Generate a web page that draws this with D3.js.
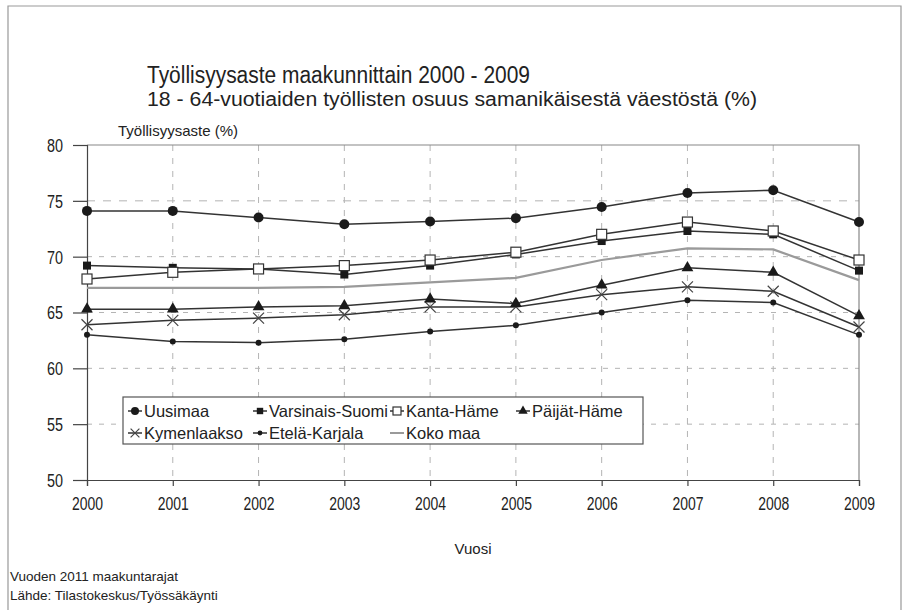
<!DOCTYPE html>
<html>
<head>
<meta charset="utf-8">
<script src="https://cdn.jsdelivr.net/npm/d3@7"></script>
<style>
  body { margin: 0; background: #fff; }
  svg { display: block; font-family: "Liberation Sans", Arial, sans-serif; }
  .narrow { font-family: "Liberation Sans Narrow", "Arial Narrow", "Liberation Sans", sans-serif; }
</style>
</head>
<body>
<div id="chart"></div>
<script>
const years = [2000, 2001, 2002, 2003, 2004, 2005, 2006, 2007, 2008, 2009];
const y_ticks = [50, 55, 60, 65, 70, 75, 80];

const uusimaa = [74.1, 74.1, 73.5, 72.9, 73.15, 73.45, 74.45, 75.7, 75.95, 73.1];
const varsinais_suomi = [69.2, 69.0, 68.9, 68.4, 69.2, 70.2, 71.4, 72.3, 72.0, 68.75];
const kanta_hame = [68.0, 68.6, 68.9, 69.2, 69.7, 70.4, 72.0, 73.1, 72.3, 69.7];
const paijat_hame = [65.3, 65.3, 65.5, 65.6, 66.2, 65.8, 67.45, 69.0, 68.6, 64.7];
const kymenlaakso = [63.9, 64.3, 64.5, 64.8, 65.5, 65.5, 66.6, 67.3, 66.9, 63.7];
const etela_karjala = [63.0, 62.4, 62.3, 62.6, 63.3, 63.85, 65.0, 66.1, 65.9, 63.0];
const koko_maa = [67.2, 67.2, 67.2, 67.3, 67.7, 68.1, 69.7, 70.75, 70.65, 67.9];

const series = [
  { name: "Koko maa", values: koko_maa, marker: "none" },
  { name: "Etelä-Karjala", values: etela_karjala, marker: "smallcircle" },
  { name: "Kymenlaakso", values: kymenlaakso, marker: "cross" },
  { name: "Päijät-Häme", values: paijat_hame, marker: "triangle" },
  { name: "Varsinais-Suomi", values: varsinais_suomi, marker: "square" },
  { name: "Kanta-Häme", values: kanta_hame, marker: "opensquare" },
  { name: "Uusimaa", values: uusimaa, marker: "circle" },
];

// legend order: row by row
const legend_items = [
  ["Uusimaa", 0, 0], ["Varsinais-Suomi", 1, 0], ["Kanta-Häme", 2, 0], ["Päijät-Häme", 3, 0],
  ["Kymenlaakso", 0, 1], ["Etelä-Karjala", 1, 1], ["Koko maa", 2, 1],
];

const width = 908, height = 610;
const plot = { left: 87, right: 859, top: 145, bottom: 480 };
const ink = "#222";
const line_col = "#333";

const svg = d3.select("#chart").append("svg")
  .attr("width", width).attr("height", height);

svg.append("rect").attr("width", width).attr("height", height).attr("fill", "#fff");

// outer frame
svg.append("path")
  .attr("d", `M8,${height} L8,6 L901,6 L901,${height}`)
  .attr("fill", "none").attr("stroke", "#999").attr("stroke-width", 1.2);

const x = d3.scaleLinear().domain([2000, 2009]).range([plot.left, plot.right]);
const y = d3.scaleLinear().domain([50, 80]).range([plot.bottom, plot.top]);

// titles (narrow font in the original, fit to measured widths)
svg.append("text").attr("class", "narrow").attr("x", 147).attr("y", 83)
  .attr("font-size", 23).attr("fill", ink)
  .attr("textLength", 383).attr("lengthAdjust", "spacingAndGlyphs")
  .text("Työllisyysaste maakunnittain 2000 - 2009");
svg.append("text").attr("class", "narrow").attr("x", 147).attr("y", 106)
  .attr("font-size", 19.5).attr("fill", ink)
  .attr("textLength", 610).attr("lengthAdjust", "spacingAndGlyphs")
  .text("18 - 64-vuotiaiden työllisten osuus samanikäisestä väestöstä (%)");

// grid
const grid = svg.append("g");
grid.selectAll(".hgrid").data([55, 60, 65, 70, 75]).join("line")
  .attr("x1", plot.left).attr("x2", plot.right)
  .attr("y1", (d) => y(d)).attr("y2", (d) => y(d))
  .attr("stroke", "#b4b4b4").attr("stroke-width", 1)
  .attr("stroke-dasharray", (d) => (d == 75 ? "8,8" : "5,7"));
grid.selectAll(".vgrid").data(years.slice(1, -1)).join("line")
  .attr("x1", (d) => x(d)).attr("x2", (d) => x(d))
  .attr("y1", plot.top).attr("y2", plot.bottom)
  .attr("stroke", "#b4b4b4").attr("stroke-width", 1)
  .attr("stroke-dasharray", "6,7");

// plot frame top & right
svg.append("path")
  .attr("d", `M${plot.left},${plot.top} L${plot.right},${plot.top} L${plot.right},${plot.bottom}`)
  .attr("fill", "none").attr("stroke", "#888").attr("stroke-width", 1.2);

// axes
const y_axis = svg.append("g")
  .attr("transform", `translate(${plot.left},0)`)
  .call(d3.axisLeft(y).tickValues(y_ticks).tickSize(14).tickPadding(10));
const x_axis = svg.append("g")
  .attr("transform", `translate(0,${plot.bottom})`)
  .call(d3.axisBottom(x).tickValues(years).tickFormat(d3.format("d")).tickSize(6).tickPadding(11));
for (const ax of [x_axis, y_axis]) {
  ax.select(".domain").attr("stroke", "#444").attr("stroke-width", 1.2);
  ax.selectAll(".tick line").attr("stroke", "#444").attr("stroke-width", 1.2);
  ax.selectAll(".tick text").attr("class", "narrow").attr("fill", ink).attr("font-size", 18)
    .attr("font-family", null)
    .attr("lengthAdjust", "spacingAndGlyphs");
}
x_axis.attr("font-family", null);
y_axis.attr("font-family", null);
x_axis.selectAll(".tick text").attr("textLength", 31);
y_axis.selectAll(".tick text").attr("textLength", 16).attr("dy", "0.36em");

svg.append("text").attr("x", 118).attr("y", 136)
  .attr("font-size", 15).attr("fill", ink).text("Työllisyysaste (%)");
svg.append("text").attr("x", 473).attr("y", 554).attr("text-anchor", "middle")
  .attr("font-size", 15).attr("fill", ink).text("Vuosi");
svg.append("text").attr("x", 10).attr("y", 581)
  .attr("font-size", 13.5).attr("fill", ink).text("Vuoden 2011 maakuntarajat");
svg.append("text").attr("x", 10).attr("y", 600)
  .attr("font-size", 13.5).attr("fill", ink).text("Lähde: Tilastokeskus/Työssäkäynti");

function drawMarker(g, type, cx, cy, scale = 1) {
  const s = scale;
  if (type == "circle") {
    g.append("circle").attr("cx", cx).attr("cy", cy).attr("r", 5 * s).attr("fill", "#1a1a1a");
  } else if (type == "smallcircle") {
    g.append("circle").attr("cx", cx).attr("cy", cy).attr("r", 3 * s).attr("fill", "#1a1a1a");
  } else if (type == "square") {
    g.append("rect").attr("x", cx - 4 * s).attr("y", cy - 4 * s)
      .attr("width", 8 * s).attr("height", 8 * s).attr("fill", "#1a1a1a");
  } else if (type == "opensquare") {
    g.append("rect").attr("x", cx - 5 * s).attr("y", cy - 5 * s)
      .attr("width", 10 * s).attr("height", 10 * s)
      .attr("fill", "#fff").attr("stroke", "#333").attr("stroke-width", 1.2);
  } else if (type == "triangle") {
    g.append("path")
      .attr("d", d3.symbol(d3.symbolTriangle, 60 * s * s)())
      .attr("transform", `translate(${cx},${cy})`)
      .attr("fill", "#1a1a1a");
  } else if (type == "cross") {
    const r = 5.5 * s;
    g.append("path")
      .attr("d", `M${cx - r},${cy - r}L${cx + r},${cy + r}M${cx - r},${cy + r}L${cx + r},${cy - r}`)
      .attr("stroke", "#444").attr("stroke-width", 1.2);
  }
}

// lines
const line = d3.line().x((d, i) => x(years[i])).y((d) => y(d));
const lines_g = svg.append("g");
for (const s of series) {
  const is_total = s.name == "Koko maa";
  lines_g.append("path").datum(s.values)
    .attr("fill", "none")
    .attr("stroke", is_total ? "#9a9a9a" : line_col)
    .attr("stroke-width", is_total ? 2.2 : 1.5)
    .attr("d", line);
}
const marks_g = svg.append("g");
for (const s of series) {
  s.values.forEach((v, i) => drawMarker(marks_g, s.marker, x(years[i]), y(v)));
}

// legend
const legend = svg.append("g");
legend.append("rect").attr("x", 123).attr("y", 397).attr("width", 520).attr("height", 47)
  .attr("fill", "#fff").attr("stroke", "#555").attr("stroke-width", 1.2);
const col_x = [128, 253, 390, 516];
const row_y = [411, 433];
for (const [name, col, row] of legend_items) {
  const s = series.find((d) => d.name == name);
  const lx = col_x[col], ly = row_y[row];
  legend.append("line").attr("x1", lx).attr("x2", lx + 14).attr("y1", ly).attr("y2", ly)
    .attr("stroke", name == "Koko maa" ? "#9a9a9a" : line_col)
    .attr("stroke-width", name == "Koko maa" ? 2 : 1.5);
  drawMarker(legend, s.marker, lx + 7, ly, 0.8);
  legend.append("text").attr("x", lx + 16).attr("y", ly + 6)
    .attr("font-size", 16.5).attr("fill", ink).text(name);
}
</script>
</body>
</html>
